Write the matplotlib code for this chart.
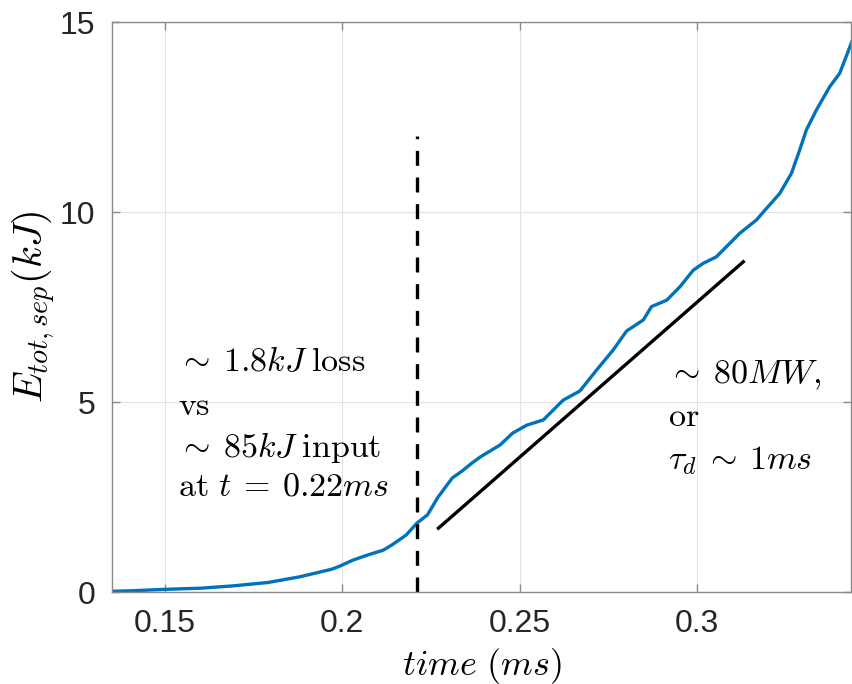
import matplotlib
matplotlib.use("Agg")
import matplotlib.pyplot as plt

# energy trace (time in ms, energy in kJ)
time_ms = [0.135, 0.14, 0.15, 0.16, 0.169, 0.179, 0.188, 0.197, 0.199, 0.203,
           0.207, 0.2115, 0.214, 0.218, 0.221, 0.224, 0.227, 0.231, 0.234, 0.2365,
           0.239, 0.2445, 0.248, 0.252, 0.2567, 0.2623, 0.267, 0.2717, 0.2764, 0.2802,
           0.2849, 0.2872, 0.2915, 0.2952, 0.299, 0.3018, 0.3055, 0.3121, 0.3168, 0.3197,
           0.3234, 0.3267, 0.329, 0.3309, 0.3337, 0.3375, 0.3403, 0.3441]
energy_kj = [0.02, 0.03, 0.07, 0.1, 0.16, 0.25, 0.4, 0.6, 0.67, 0.84,
             0.97, 1.1, 1.24, 1.5, 1.81, 2.03, 2.5, 3.0, 3.2, 3.39,
             3.56, 3.87, 4.18, 4.39, 4.53, 5.05, 5.29, 5.84, 6.37, 6.87,
             7.16, 7.51, 7.68, 8.03, 8.47, 8.65, 8.82, 9.44, 9.79, 10.1,
             10.49, 11.02, 11.63, 12.16, 12.68, 13.3, 13.65, 14.57]

# marker line at t = 0.22 ms and the ~80 MW slope guide
mark_t = [0.221, 0.221]
mark_e = [0, 12]
slope_t = [0.2271, 0.3131]
slope_e = [1.68, 8.69]

xticks = [0.15, 0.2, 0.25, 0.3]
xtick_labels = ["0.15", "0.2", "0.25", "0.3"]
yticks = [0, 5, 10, 15]

plt.rcParams["mathtext.fontset"] = "cm"
plt.rcParams["font.family"] = ["Liberation Sans", "DejaVu Sans"]

fig = plt.figure(figsize=(8.53, 6.84), dpi=100)
ax = fig.add_axes([0.1313, 0.1345, 0.8664, 0.8333])

ax.plot(time_ms, energy_kj, color="#0072BD", lw=2.4, solid_joinstyle="round")
ax.plot(mark_t, mark_e, color="black", lw=2.4, ls=(0, (4.5, 3.5)))
ax.plot(slope_t, slope_e, color="black", lw=2.4)

ax.set_xlim(0.135, 0.3435)
ax.set_ylim(0, 15)
ax.set_xticks(xticks)
ax.set_xticklabels(xtick_labels)
ax.set_yticks(yticks)
ax.grid(True, color="#e3e3e3", lw=0.8)
ax.set_axisbelow(True)
for s in ax.spines.values():
    s.set_color("#8a8a8a")
    s.set_linewidth(1.0)
ax.tick_params(direction="in", top=True, right=True, length=6, width=1,
               color="#8a8a8a", labelcolor="#262626", labelsize=23, pad=12)

ax.set_xlabel(r"$time\ (ms)$", fontsize=26, labelpad=5)
ax.set_ylabel(r"$E_{tot,sep}(kJ)$", fontsize=29, labelpad=1)

fs = 24.5
ax.text(0.1537, 6.03, r"$\sim\:1.8kJ\;\mathrm{loss}$", fontsize=fs, va="center")
ax.text(0.1537, 4.87, r"$\mathrm{vs}$", fontsize=fs, va="center")
ax.text(0.1537, 3.79, r"$\sim\:85kJ\;\mathrm{input}$", fontsize=fs, va="center")
ax.text(0.1537, 2.76, r"$\mathrm{at}\ t\:=\:0.22ms$", fontsize=fs, va="center")

ax.text(0.2918, 5.71, r"$\sim\:80MW,$", fontsize=fs, va="center")
ax.text(0.2918, 4.58, r"$\mathrm{or}$", fontsize=fs, va="center")
ax.text(0.2918, 3.47, r"$\tau_d\:\sim\:1ms$", fontsize=fs, va="center")

fig.savefig("out.png", dpi=100)
